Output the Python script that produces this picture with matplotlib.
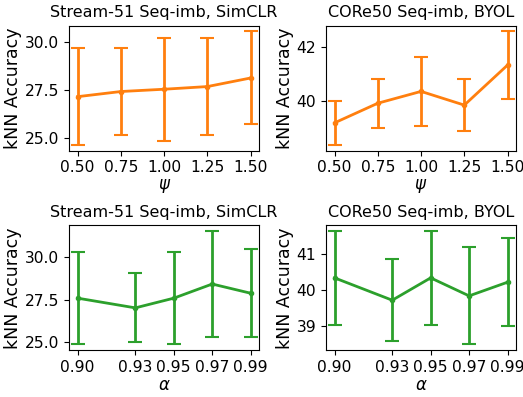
import numpy as np
import matplotlib
matplotlib.use("Agg")
import matplotlib.pyplot as plt

plt.rcParams['font.size'] = 12
plt.rcParams['xtick.labelsize'] = 11.2
plt.rcParams['ytick.labelsize'] = 11.2

# psi sweep
psi = [0.50, 0.75, 1.00, 1.25, 1.50]
psi_ticks = ["0.50", "0.75", "1.00", "1.25", "1.50"]
stream_psi_mean = [27.15, 27.42, 27.54, 27.68, 28.13]
stream_psi_err = [2.53, 2.26, 2.70, 2.55, 2.44]
core_psi_mean = [39.18, 39.91, 40.35, 39.84, 41.33]
core_psi_err = [0.82, 0.91, 1.27, 0.98, 1.25]

# alpha sweep
alpha = [0.90, 0.93, 0.95, 0.97, 0.99]
alpha_ticks = ["0.90", "0.93", "0.95", "0.97", "0.99"]
stream_alpha_mean = [27.58, 27.01, 27.58, 28.41, 27.87]
stream_alpha_err = [2.72, 2.03, 2.70, 3.11, 2.58]
core_alpha_mean = [40.34, 39.72, 40.34, 39.84, 40.22]
core_alpha_err = [1.30, 1.14, 1.30, 1.35, 1.23]

titles = ["Stream-51 Seq-imb, SimCLR", "CORe50 Seq-imb, BYOL"]

fig, axes = plt.subplots(2, 2, figsize=(5.23, 3.97), dpi=100)
fig.subplots_adjust(left=0.132, right=0.987, top=0.935, bottom=0.118,
                    wspace=0.35, hspace=0.6)

panels = [
    (axes[0, 0], psi, psi_ticks, stream_psi_mean, stream_psi_err, "tab:orange",
     r"$\psi$", titles[0], [25.0, 27.5, 30.0], ["25.0", "27.5", "30.0"]),
    (axes[0, 1], psi, psi_ticks, core_psi_mean, core_psi_err, "tab:orange",
     r"$\psi$", titles[1], [40, 42], ["40", "42"]),
    (axes[1, 0], alpha, alpha_ticks, stream_alpha_mean, stream_alpha_err, "tab:green",
     r"$\alpha$", titles[0], [25.0, 27.5, 30.0], ["25.0", "27.5", "30.0"]),
    (axes[1, 1], alpha, alpha_ticks, core_alpha_mean, core_alpha_err, "tab:green",
     r"$\alpha$", titles[1], [39, 40, 41], ["39", "40", "41"]),
]

for ax, x, xt, m, e, c, xl, t, yt, ytl in panels:
    ax.errorbar(x, m, yerr=e, color=c, marker="o", markersize=3,
                linewidth=2, elinewidth=2, capsize=5, capthick=1.5)
    ax.set_xticks(x)
    ax.set_xticklabels(xt)
    ax.set_yticks(yt)
    ax.set_yticklabels(ytl)
    ax.set_xlabel(xl, labelpad=1)
    ax.set_ylabel("kNN Accuracy", labelpad=2, fontsize=12.5)
    ax.set_title(t, fontsize=11.5)

fig.savefig("out.png", dpi=100)
